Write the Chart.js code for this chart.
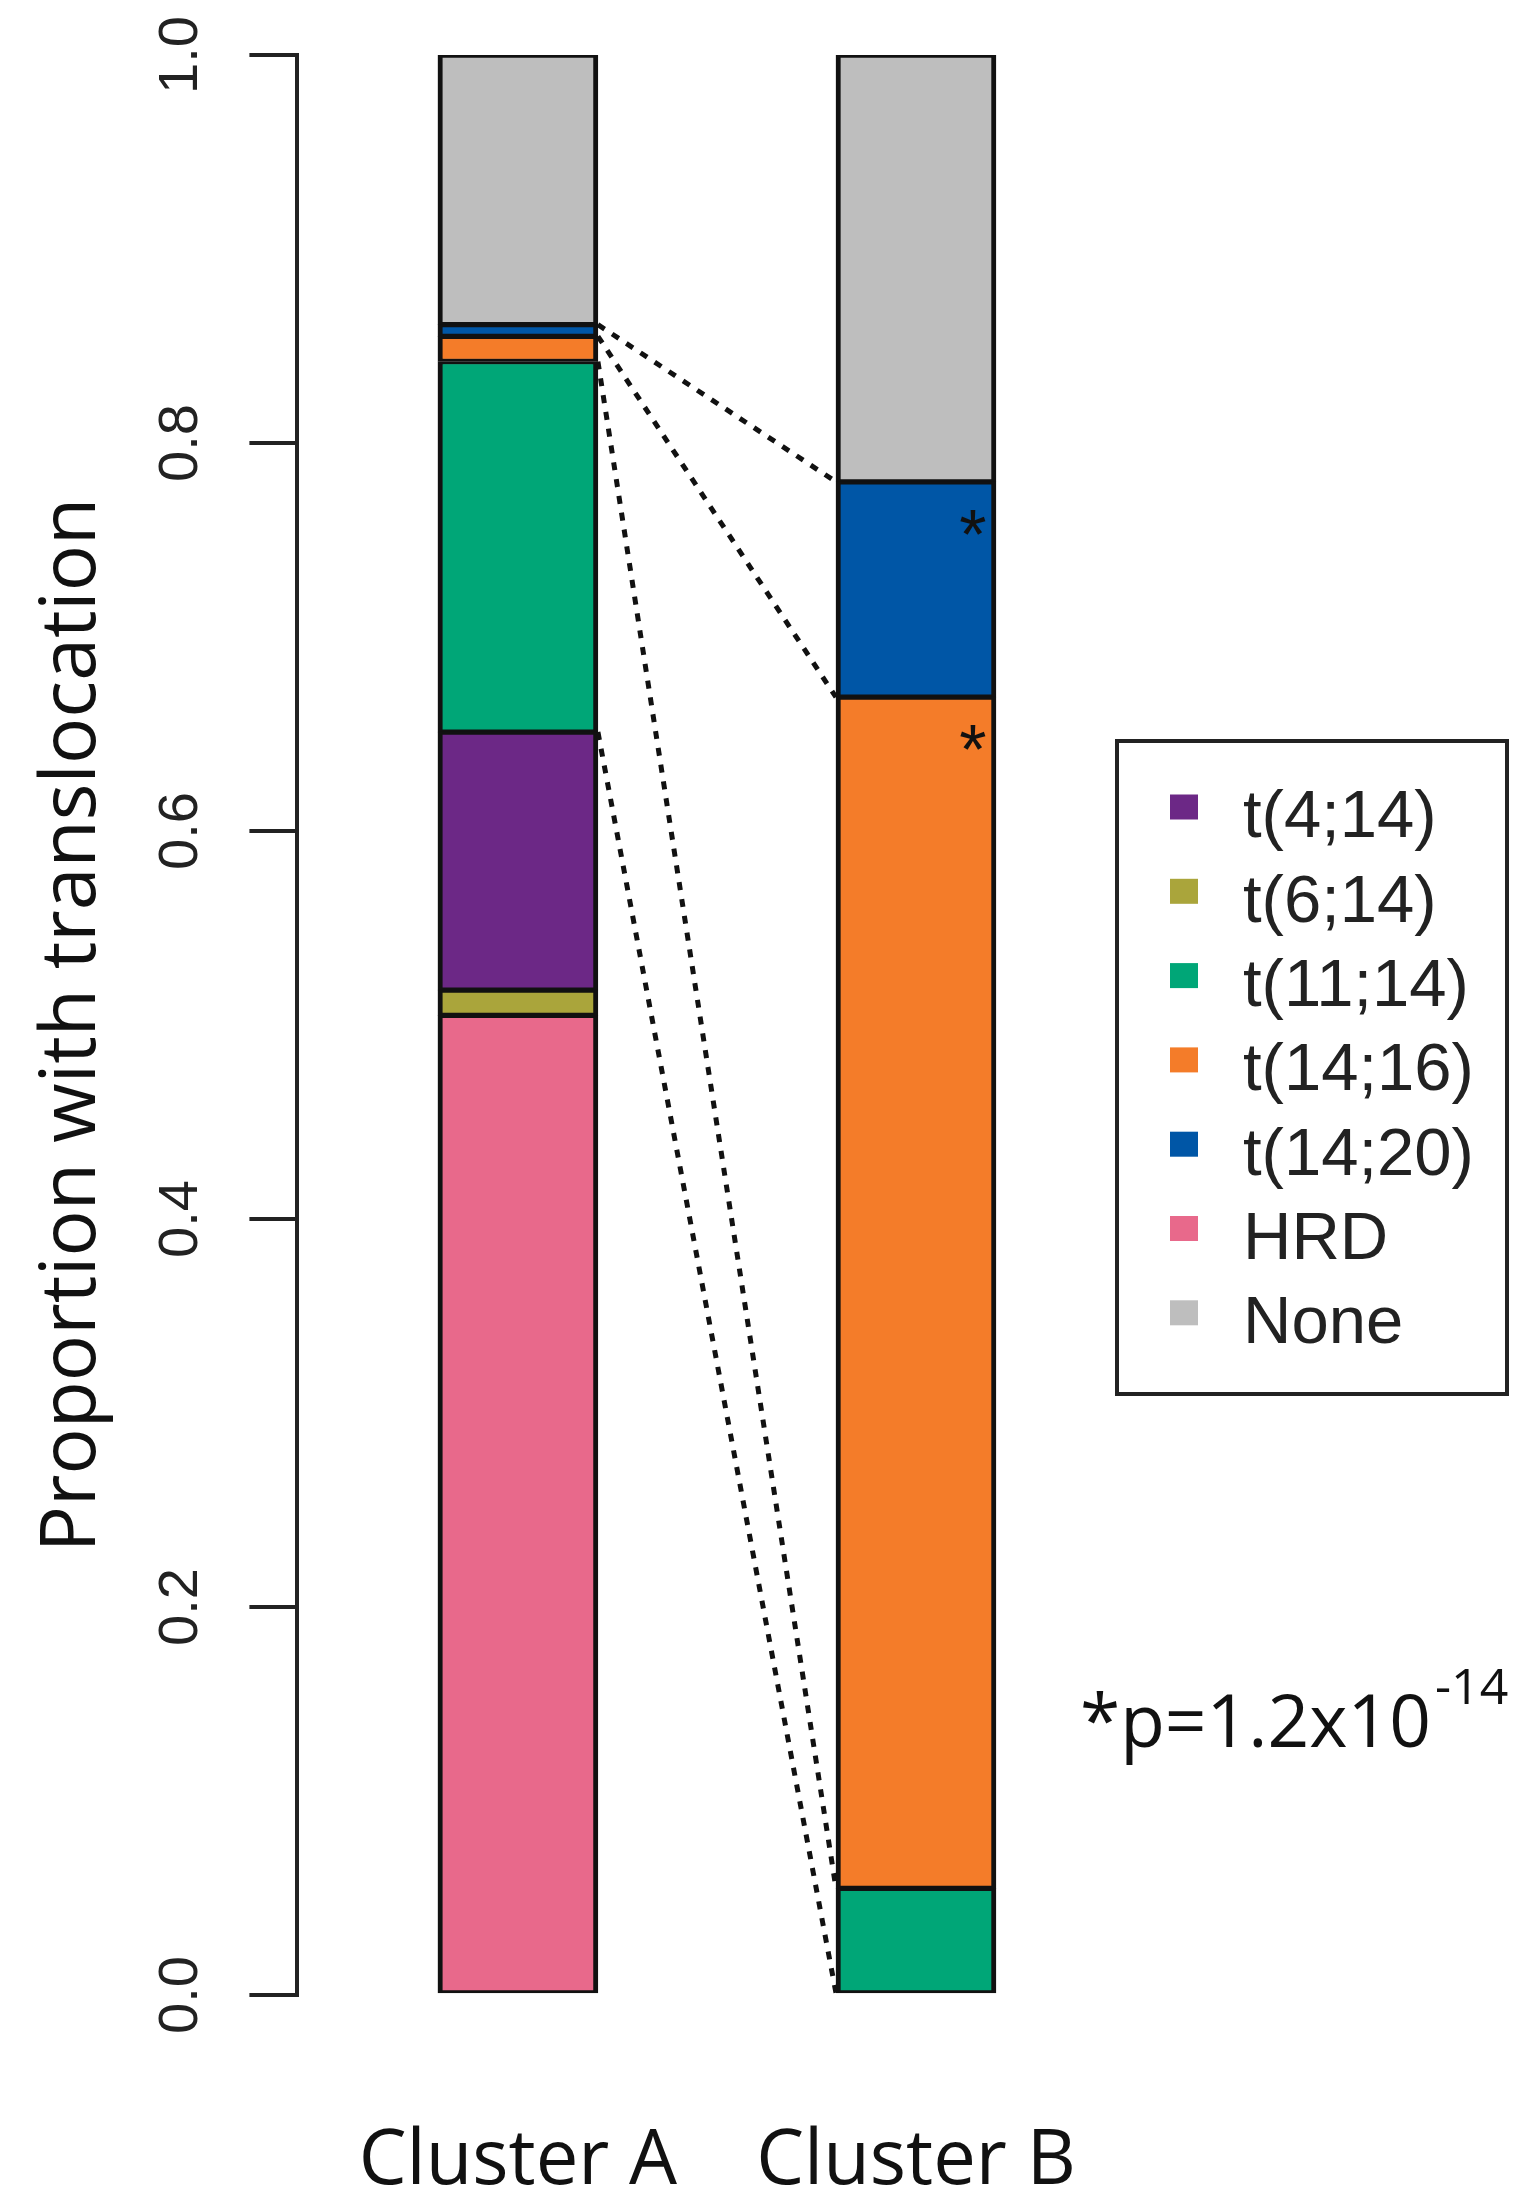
<!DOCTYPE html>
<html>
<head>
<meta charset="utf-8">
<script src="https://cdn.jsdelivr.net/npm/chart.js@4.4.1/dist/chart.umd.min.js"></script>
<style>
  html, body { margin: 0; padding: 0; background: #fff; }
  canvas { display: block; }
</style>
</head>
<body>
<canvas id="chart" width="1539" height="2207"></canvas>
<script>
/* ---- data ---- */
const clusters = ['Cluster A', 'Cluster B'];
// stacking order, bottom -> top
const categories = ['HRD', 't(6;14)', 't(4;14)', 't(11;14)', 't(14;16)', 't(14;20)', 'None'];
const clusterA = [0.505, 0.013, 0.133, 0.191, 0.013, 0.006, 0.139];
const clusterB = [0, 0, 0, 0.055, 0.614, 0.111, 0.220];
const colors = ['#e8698b', '#aaa53b', '#6c2886', '#00a677', '#f47c29', '#0056a6', '#bebebe'];
const legendOrder = ['t(4;14)', 't(6;14)', 't(11;14)', 't(14;16)', 't(14;20)', 'HRD', 'None'];
const linked = ['t(11;14)', 't(14;16)', 't(14;20)'];
const starred = ['t(14;16)', 't(14;20)'];
const yTicks = [0, 0.2, 0.4, 0.6, 0.8, 1.0];
const pText = '*p=1.2x10';
const pExp = '-14';

const INK = '#111';
Chart.defaults.font.family = '"Open Sans", sans-serif';
Chart.defaults.color = INK;

/* ---- R style tick labels, read bottom to top ---- */
const yLabels = {
  id: 'yLabels',
  afterDraw(chart) {
    const { ctx } = chart, y = chart.scales.y;
    ctx.save();
    ctx.font = '56px "Liberation Sans", Arial, sans-serif';
    ctx.fillStyle = '#222';
    ctx.textAlign = 'center';
    ctx.textBaseline = 'middle';
    yTicks.forEach(v => {
      ctx.save();
      ctx.translate(y.right - 116, y.getPixelForValue(v));
      ctx.rotate(-Math.PI / 2);
      ctx.fillText(v.toFixed(1), 0, 0);
      ctx.restore();
    });
    ctx.restore();
  }
};

/* ---- dotted lines joining the shared categories, plus stars ---- */
const links = {
  id: 'links',
  afterDatasetsDraw(chart) {
    const { ctx } = chart;
    const metas = linked.map(n => chart.getDatasetMeta(categories.indexOf(n)).data);
    const a = metas[0][0], b = metas[0][1];
    const x0 = a.x + a.width / 2, x1 = b.x - b.width / 2;
    const seen = {};
    const pairs = [];
    metas.forEach(d => {
      [[d[0].base, d[1].base], [d[0].y, d[1].y]].forEach(p => {
        const k = Math.round(p[0]) + '_' + Math.round(p[1]);
        if (!seen[k]) { seen[k] = 1; pairs.push(p); }
      });
    });
    ctx.save();
    ctx.setLineDash([8, 9]);
    ctx.lineWidth = 5;
    ctx.strokeStyle = INK;
    pairs.forEach(([ya, yb]) => {
      ctx.beginPath();
      ctx.moveTo(x0, ya);
      ctx.lineTo(x1, yb);
      ctx.stroke();
    });
    ctx.restore();

    ctx.save();
    ctx.font = '70px "Liberation Sans", Arial, sans-serif';
    ctx.fillStyle = INK;
    ctx.textAlign = 'center';
    ctx.textBaseline = 'alphabetic';
    starred.forEach(n => {
      const bar = chart.getDatasetMeta(categories.indexOf(n)).data[1];
      ctx.fillText('*', bar.x + bar.width / 2 - 23, bar.y + 37 + 40);
    });
    ctx.restore();
  }
};

/* ---- boxed legend + p value note ---- */
const boxLegend = {
  id: 'boxLegend',
  afterDraw(chart) {
    const { ctx } = chart;
    const L = 1117, T = 741, R = 1507, B = 1394;
    ctx.save();
    ctx.lineWidth = 4;
    ctx.strokeStyle = '#222';
    ctx.strokeRect(L, T, R - L, B - T);
    ctx.font = '67px "Liberation Sans", Arial, sans-serif';
    ctx.textBaseline = 'middle';
    ctx.textAlign = 'left';
    legendOrder.forEach((name, i) => {
      const ds = chart.data.datasets[categories.indexOf(name)];
      const yc = 819 + i * 84.3;
      ctx.fillStyle = ds.backgroundColor;
      ctx.fillRect(L + 53, yc - 12 - 12.5, 28, 25);
      ctx.fillStyle = '#222';
      ctx.fillText(ds.label, L + 126, yc);
    });

    ctx.fillStyle = INK;
    ctx.textBaseline = 'alphabetic';
    ctx.font = '73px "Open Sans", sans-serif';
    ctx.fillText(pText, 1080, 1747);
    const w = ctx.measureText(pText).width;
    ctx.font = '50px "Open Sans", sans-serif';
    ctx.fillText(pExp, 1080 + w + 4, 1704);
    ctx.restore();
  }
};

const datasets = categories.map((name, i) => ({
  label: name,
  data: [clusterA[i], clusterB[i]].map((v, j) => ({ x: j, y: v })),
  stack: 'all',
  backgroundColor: colors[i],
  borderColor: INK,
  borderWidth: { left: 5, right: 5, top: 3, bottom: 3 },
  borderSkipped: false,
  barThickness: 160
}));

new Chart(document.getElementById('chart'), {
  type: 'bar',
  data: { datasets },
  options: {
    responsive: false,
    animation: false,
    devicePixelRatio: 1,
    // x axis box is taller than its labels need, so let it hang past the bottom edge
    layout: { padding: { top: 55, right: 424, bottom: -122, left: 0 } },
    plugins: { legend: { display: false }, tooltip: { enabled: false } },
    scales: {
      x: {
        type: 'linear',
        offset: false,
        bounds: 'data',
        min: -0.554,
        max: 1.5,
        afterBuildTicks: s => { s.ticks = clusters.map((c, i) => ({ value: i })); },
        ticks: {
          callback: (v, i) => clusters[i],
          font: { size: 76, lineHeight: 1 },
          color: INK,
          padding: 129,
          maxRotation: 0,
          autoSkip: false
        },
        grid: { display: false, drawTicks: false, offset: false },
        border: { display: false }
      },
      y: {
        stacked: true,
        bounds: 'data',
        min: 0,
        max: 1,
        afterBuildTicks: s => { s.ticks = yTicks.map(v => ({ value: v })); },
        ticks: { display: false },
        grid: { display: true, drawOnChartArea: false, drawTicks: true, tickLength: 48, color: '#222', lineWidth: 4 },
        border: { display: true, color: '#222', width: 4 },
        title: {
          display: true,
          text: 'Proportion with translocation',
          font: { size: 77, lineHeight: 1.2 },
          color: INK,
          padding: { top: 27, bottom: 130 }
        }
      }
    }
  },
  plugins: [links, yLabels, boxLegend]
});
</script>
</body>
</html>
